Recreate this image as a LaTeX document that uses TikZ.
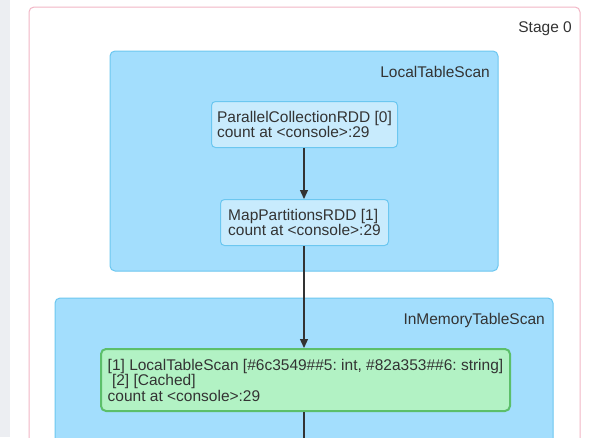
\documentclass[tikz,border=0pt]{standalone}
\usepackage{fontspec}
\setmainfont{Liberation Sans}
\usetikzlibrary{arrows.meta}
\frenchspacing
\definecolor{sidegray}{HTML}{ECEEF2}
\definecolor{stageborder}{HTML}{F2B6C6}
\definecolor{clusterfill}{HTML}{A3DEFD}
\definecolor{clusterborder}{HTML}{6CC7F0}
\definecolor{rddfill}{HTML}{C8EBFD}
\definecolor{rddborder}{HTML}{6CC7F0}
\definecolor{cachedfill}{HTML}{B2F2C4}
\definecolor{cachedborder}{HTML}{5CBF6A}
\definecolor{txt}{HTML}{333333}
\tikzset{
  x=1pt, y=-1pt,
  every node/.style={font=\fontsize{15.5}{15.5}\selectfont, text=txt},
  cluster/.style={draw=clusterborder, fill=clusterfill, line width=1pt, rounded corners=5pt},
  rdd/.style={draw=rddborder, fill=rddfill, line width=1pt, rounded corners=4pt, align=left, inner xsep=0pt, inner ysep=0pt, anchor=north west},
  cached/.style={draw=cachedborder, fill=cachedfill, line width=2pt, rounded corners=5pt, align=left, inner xsep=0pt, inner ysep=0pt, anchor=north west},
  edge/.style={draw=txt, line width=1.2pt, -{Triangle[width=8pt,length=9pt]}},
  lbl/.style={anchor=base east, inner sep=0pt}
}
\begin{document}
\begin{tikzpicture}
\useasboundingbox (0,0) rectangle (597,437);
\clip (0,0) rectangle (597,437);
\fill[white] (0,0) rectangle (597,437);
\fill[sidegray] (0,0) rectangle (10,437);
% stage
\draw[stageborder, line width=1pt, rounded corners=5pt, fill=white] (29,7) rectangle (580,460);
\node[lbl] (stagelbl) at (572,32) {Stage 0};
% LocalTableScan cluster
\draw[cluster] (110,51) rectangle (498,271);
\node[lbl] (ltslbl) at (490,77) {LocalTableScan};
% InMemoryTableScan cluster
\draw[cluster] (55,298) rectangle (553,470);
\node[lbl] (imlbl) at (545,324) {InMemoryTableScan};
% nodes
\node[rdd, minimum width=186pt, minimum height=46pt] (pc) at (211,101) {ParallelCollectionRDD [0]\\count at <console>:29};
\node[rdd, minimum width=168pt, minimum height=46pt] (mp) at (220,199) {MapPartitionsRDD [1]\\count at <console>:29};
\node[cached, minimum width=409pt, minimum height=62pt] (ts) at (100,348) {[1] LocalTableScan [\#6c3549\#\#5: int, \#82a353\#\#6: string]\\\ [2] [Cached]\\count at <console>:29};
\coordinate (below) at (304,445);
% edges
\draw[edge] (pc.south -| 304,0) -- (mp.north -| 304,0);
\draw[edge] (mp.south -| 304,0) -- (ts.north -| 304,0);
\draw[draw=txt, line width=1.2pt] (ts.south -| 304,0) -- (below);
\end{tikzpicture}
\end{document}
